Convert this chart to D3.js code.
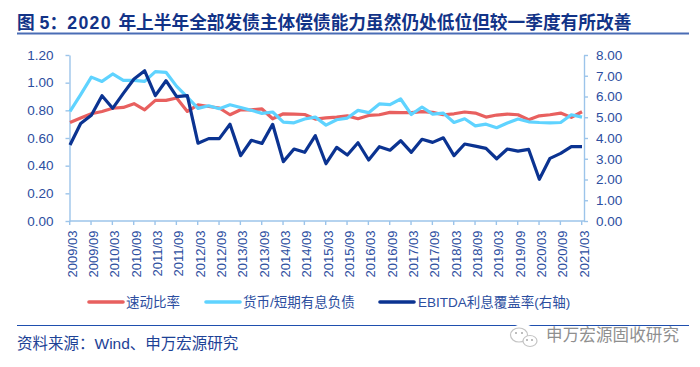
<!DOCTYPE html>
<html>
<head>
<meta charset="utf-8">
<script src="https://cdn.jsdelivr.net/npm/d3@7"></script>
<style>
  html, body { margin: 0; padding: 0; background: #fff; }
  text { font-family: "Liberation Sans", "Noto Sans CJK SC", sans-serif; }
</style>
</head>
<body>
<div id="chart"></div>
<script>
// labels on the x axis, one for every second quarter
const tickLabels = ['2009/03','2009/09','2010/03','2010/09','2011/03','2011/09','2012/03','2012/09',
  '2013/03','2013/09','2014/03','2014/09','2015/03','2015/09','2016/03','2016/09','2017/03','2017/09',
  '2018/03','2018/09','2019/03','2019/09','2020/03','2020/09','2021/03'];
const quarters = ['2009/03','2009/06','2009/09','2009/12','2010/03','2010/06','2010/09','2010/12',
  '2011/03','2011/06','2011/09','2011/12','2012/03','2012/06','2012/09','2012/12',
  '2013/03','2013/06','2013/09','2013/12','2014/03','2014/06','2014/09','2014/12',
  '2015/03','2015/06','2015/09','2015/12','2016/03','2016/06','2016/09','2016/12',
  '2017/03','2017/06','2017/09','2017/12','2018/03','2018/06','2018/09','2018/12',
  '2019/03','2019/06','2019/09','2019/12','2020/03','2020/06','2020/09','2020/12','2021/03'];

const quickRatio = [.712,.744,.775,.792,.815,.821,.848,.804,.872,.872,.889,.792,.84,.828,.817,.768,.804,.804,.81,.739,
  .775,.773,.77,.737,.745,.751,.76,.739,.763,.768,.785,.783,.783,.79,.785,.768,.775,.788,.78,.751,.766,.773,.768,.732,
  .76,.768,.78,.749,.79];
const cashDebt = [.792,.913,1.04,1.009,1.063,1.017,1.017,1.009,1.08,1.075,.973,.896,.814,.833,.812,.84,.82,.80,.778,.788,
  .715,.71,.737,.751,.693,.732,.744,.80,.783,.846,.841,.882,.77,.824,.773,.78,.712,.739,.688,.70,.674,.708,.737,.717,
  .712,.71,.712,.768,.751];
const ebitdaCover = [3.66,4.7,5.1,6.04,5.43,6.15,6.84,7.24,6.04,6.76,5.99,6.04,3.75,3.97,3.97,4.66,3.15,3.89,3.74,4.66,
  2.86,3.47,3.31,4.11,2.76,3.55,3.18,3.77,2.94,3.58,3.41,3.87,3.31,3.94,3.79,4.01,3.15,3.71,3.61,3.5,3.0,3.47,3.37,3.45,
  2.01,3.02,3.26,3.58,3.58];

const leftTicks = [0, .2, .4, .6, .8, 1, 1.2];
const rightTicks = [0, 1, 2, 3, 4, 5, 6, 7, 8];

const axisColor = '#9cc4ea', labelColor = '#2c4ea0', navy = '#0b3391';

const svg = d3.select('#chart').append('svg')
  .attr('width', 700).attr('height', 367)
  .style('display', 'block');

const x = d3.scalePoint().domain(quarters).range([70, 582]);
const yL = d3.scaleLinear().domain([0, 1.2]).range([221, 55]);
const yR = d3.scaleLinear().domain([0, 8]).range([221, 55]);

// title, the year runs a bit wider than the rest
const title = svg.append('text').attr('x', 17).attr('y', 29)
  .attr('fill', '#123387').attr('font-size', 17.7).attr('font-weight', 700)
  .attr('xml:space', 'preserve');
title.append('tspan').text('图 5：');
title.append('tspan').attr('letter-spacing', 1.4).text('2020 ');
title.append('tspan').text('年上半年全部发债主体偿债能力虽然仍处低位但较一季度有所改善');
svg.append('line').attr('x1', 17).attr('x2', 689).attr('y1', 33.5).attr('y2', 33.5)
  .attr('stroke', '#4a6db5').attr('stroke-width', 2);

// axes
function styleAxis(g) {
  g.selectAll('path, line').attr('stroke', axisColor).attr('stroke-width', 1.4);
  g.selectAll('text').attr('fill', labelColor).attr('font-family', '"Liberation Sans", sans-serif');
}

const gx = svg.append('g').attr('transform', 'translate(-0.8,221)')
  .call(d3.axisBottom(x).tickValues(tickLabels).tickSize(4).tickSizeOuter(0));
gx.select('.domain').attr('d', 'M70.3,0H584.8');
gx.selectAll('text')
  .attr('font-size', 13)
  .attr('text-anchor', 'end')
  .attr('transform', 'translate(2.5,0) rotate(-90)')
  .attr('x', -9.5).attr('y', 0).attr('dy', '0.35em');
styleAxis(gx);

const gl = svg.append('g').attr('transform', 'translate(69.5,0)')
  .call(d3.axisLeft(yL).tickValues(leftTicks).tickFormat(d3.format('.2f')).tickSize(4).tickPadding(12).tickSizeOuter(0));
gl.selectAll('text').attr('font-size', 13.5);
styleAxis(gl);

const gr = svg.append('g').attr('transform', 'translate(584,0)')
  .call(d3.axisRight(yR).tickValues(rightTicks).tickFormat(d3.format('.2f')).tickSize(4).tickPadding(8).tickSizeOuter(0));
gr.selectAll('text').attr('font-size', 13.5);
styleAxis(gr);

// cyan goes over red, navy over cyan
const series = [
  {name: '速动比率', values: quickRatio, y: yL, color: '#e8605f', w: 3.2},
  {name: '货币/短期有息负债', values: cashDebt, y: yL, color: '#5fd3ff', w: 3.2},
  {name: 'EBITDA利息覆盖率(右轴)', values: ebitdaCover, y: yR, color: navy, w: 3.2}
];
series.forEach(function(s) {
  const line = d3.line()
    .x(function(d, i) { return x(quarters[i]); })
    .y(function(d) { return s.y(d); });
  svg.append('path').datum(s.values)
    .attr('fill', 'none')
    .attr('stroke', s.color)
    .attr('stroke-width', s.w)
    .attr('stroke-linejoin', 'round')
    .attr('d', line);
});

// legend
const legendX = [{l: 89, t: 126}, {l: 206, t: 243}, {l: 380, t: 418}];
series.forEach(function(s, i) {
  svg.append('line')
    .attr('x1', legendX[i].l).attr('x2', legendX[i].l + 34)
    .attr('y1', 302).attr('y2', 302)
    .attr('stroke', s.color).attr('stroke-width', 3.6).attr('stroke-linecap', 'round');
  svg.append('text').attr('x', legendX[i].t).attr('y', 307)
    .attr('fill', labelColor).attr('font-size', 13.5)
    .text(s.name);
});

// bottom rule + source
svg.append('line').attr('x1', 17).attr('x2', 689).attr('y1', 325.5).attr('y2', 325.5)
  .attr('stroke', '#1f4fae').attr('stroke-width', 1.2);
svg.append('text').attr('x', 17).attr('y', 349)
  .attr('fill', '#1d4296').attr('font-size', 15.5)
  .text('资料来源：Wind、申万宏源研究');

// watermark
const wm = svg.append('g');
wm.append('ellipse').attr('cx', 523).attr('cy', 336).attr('rx', 14).attr('ry', 12).attr('fill', '#fff');
wm.append('ellipse').attr('cx', 519).attr('cy', 335).attr('rx', 8.5).attr('ry', 7)
  .attr('fill', '#fff').attr('stroke', '#c4c4c4').attr('stroke-width', 1.2);
wm.append('ellipse').attr('cx', 530).attr('cy', 341).attr('rx', 7).attr('ry', 5.5)
  .attr('fill', '#fff').attr('stroke', '#c4c4c4').attr('stroke-width', 1.2);
[[516, 333], [522, 333], [527, 340], [532, 340]].forEach(function(p) {
  wm.append('circle').attr('cx', p[0]).attr('cy', p[1]).attr('r', 1).attr('fill', '#a8a8a8');
});
wm.append('text').attr('x', 546).attr('y', 341)
  .attr('fill', '#8f8f8f').attr('font-size', 16.5).attr('textLength', 133)
  .text('申万宏源固收研究');
</script>
</body>
</html>
